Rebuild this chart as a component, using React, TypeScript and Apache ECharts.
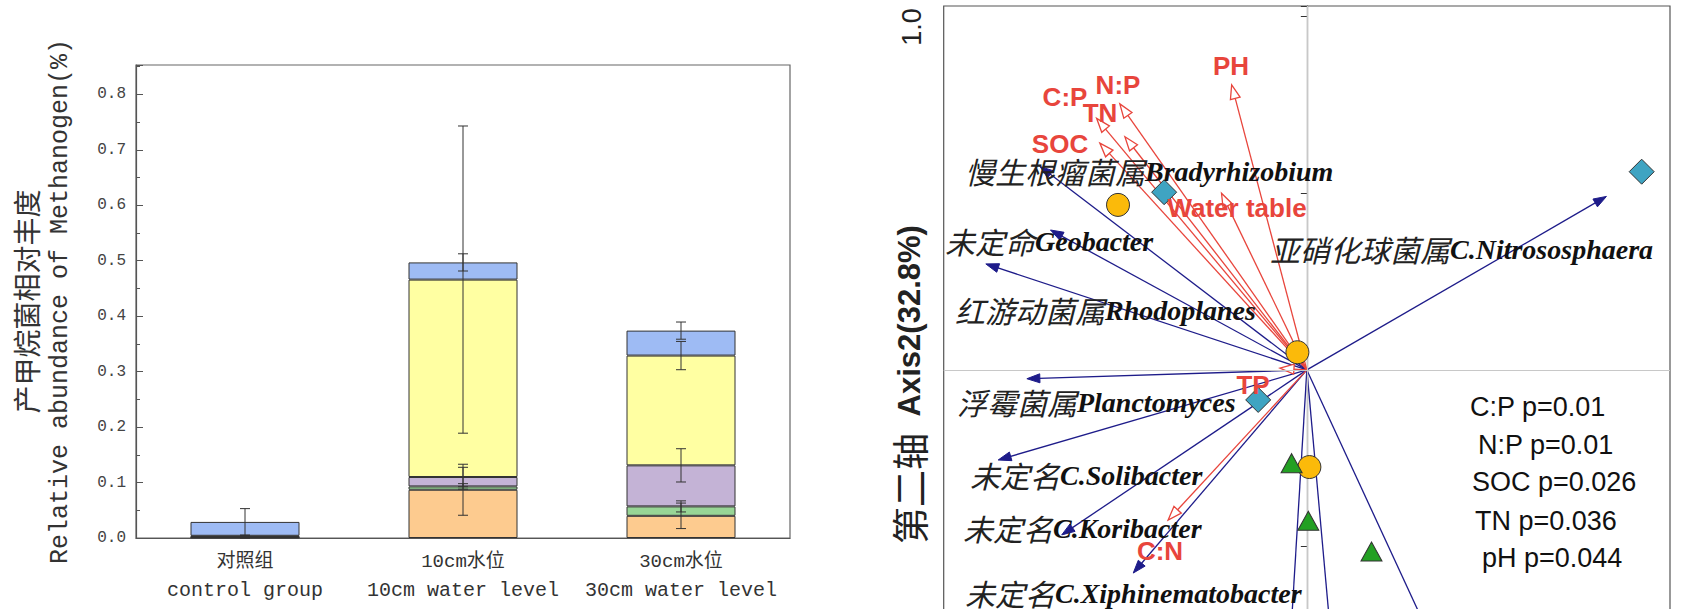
import React, { useEffect, useRef } from 'react';
import * as echarts from 'echarts';

// ---------- Left chart: stacked relative abundance ----------
const categoriesCn = ['对照组', '10cm水位', '30cm水位'];
const categoriesEn = ['control group', '10cm water level', '30cm water level'];
const layerNames = ['类群1', '类群2', '类群3', '类群4', '类群5'];
const layer1 = [0.001, 0.087, 0.040];   // orange
const layer2 = [0.0005, 0.006, 0.017];  // green
const layer3 = [0.001, 0.017, 0.074];   // purple
const layer4 = [0.0015, 0.356, 0.198];  // yellow
const layer5 = [0.025, 0.031, 0.045];   // blue
const err1 = [0.002, 0.046, 0.023];
const err2 = [0.001, 0.005, 0.010];
const err3 = [0.001, 0.0175, 0.030];
const err4 = [0.001, 0.277, 0.0255];
const err5 = [0.024, 0.0155, 0.0155];

// ---------- Right chart: RDA biplot ----------
const speciesArrowX = [-0.735, -0.706, -0.884, -0.771, -0.850, -0.675, -0.478, 0.825, -0.056, 0.083, 0.427];
const speciesArrowY = [0.576, 0.396, 0.300, -0.025, -0.255, -0.467, -0.575, 0.491, -0.95, -0.95, -0.95];
const speciesCn = ['慢生根瘤菌属', '未定命', '红游动菌属', '浮霉菌属', '未定名', '未定名', '未定名', '亚硝化球菌属'];
const speciesLatin = ['Bradyrhizobium', 'Geobacter', 'Rhodoplanes', 'Planctomyces', 'C.Solibacter', 'C.Koribacter', 'C.Xiphinematobacter', 'C.Nitrososphaera'];

const envNames = ['PH', 'N:P', 'C:P', 'TN', 'SOC', 'Water table', 'TP', 'C:N'];
const envX = [-0.207, -0.515, -0.579, -0.501, -0.570, -0.235, -0.074, -0.382];
const envY = [0.807, 0.753, 0.712, 0.660, 0.642, 0.500, 0.005, -0.425];

const circleX = [-0.520, -0.026, 0.007];
const circleY = [0.467, 0.050, -0.275];
const diamondX = [-0.393, 0.922, -0.134];
const diamondY = [0.503, 0.561, -0.085];
const triangleX = [-0.042, 0.004, 0.178];
const triangleY = [-0.264, -0.427, -0.514];

const sigTexts = ['C:P p=0.01', 'N:P p=0.01', 'SOC p=0.026', 'TN p=0.036', 'pH p=0.044'];

// layout (pixels) for annotation texts
const speciesLabelPos = [[965, 171], [945, 241], [955, 310], [957, 402], [970, 475], [963, 528], [965, 593], [1270, 249]];
const envLabelPos = [[1231, 66], [1118, 85], [1065, 97], [1100, 113], [1060, 144], [1237, 208], [1253, 385], [1160, 551]];
const sigLabelPos = [[1470, 407], [1478, 445], [1472, 482], [1475, 521], [1482, 558]];

const RED = '#E8453C';
const NAVY = '#1E1C8A';

function arrowRenderer(color: string, hollow: boolean, headLen: number, headW: number) {
  return (params: any, api: any) => {
    const tip = api.coord([api.value(0), api.value(1)]);
    const o = api.coord([0, 0]);
    const dx = tip[0] - o[0];
    const dy = tip[1] - o[1];
    const len = Math.hypot(dx, dy) || 1;
    const ux = dx / len;
    const uy = dy / len;
    const bx = tip[0] - ux * headLen;
    const by = tip[1] - uy * headLen;
    const px = -uy * headW;
    const py = ux * headW;
    return {
      type: 'group',
      children: [
        {
          type: 'line',
          shape: { x1: o[0], y1: o[1], x2: hollow ? bx : tip[0] - ux * 4, y2: hollow ? by : tip[1] - uy * 4 },
          style: { stroke: color, lineWidth: 1.3 },
        },
        {
          type: 'polygon',
          shape: { points: [[tip[0], tip[1]], [bx + px, by + py], [bx - px, by - py]] },
          style: { fill: hollow ? '#ffffff' : color, stroke: color, lineWidth: hollow ? 1.3 : 1 },
        },
      ],
    };
  };
}

export default function App() {
  const ref = useRef<HTMLDivElement>(null);

  useEffect(() => {
    document.body.style.margin = '0';
    if (!ref.current) return;
    const chart = echarts.init(ref.current, undefined, { renderer: 'svg' });

    const layers = [layer1, layer2, layer3, layer4, layer5];
    const errs = [err1, err2, err3, err4, err5];
    const colors = ['#FDCB8F', '#98D596', '#C4B3D6', '#FFFFA2', '#9EBBF4'];
    const errorData: number[][] = [];
    categoriesCn.forEach((_, i) => {
      let cum = 0;
      layers.forEach((l, k) => {
        cum += l[i];
        errorData.push([i, Math.max(0, cum - errs[k][i]), cum + errs[k][i]]);
      });
    });

    const barSeries = layers.map((l, k) => ({
      name: layerNames[k],
      type: 'bar',
      xAxisIndex: 0,
      yAxisIndex: 0,
      stack: 'total',
      barWidth: '50%',
      data: l,
      itemStyle: { color: colors[k], borderColor: '#333', borderWidth: 1 },
      z: 2,
    }));

    const speciesData = speciesArrowX.map((x, i) => [x, speciesArrowY[i]]);
    const envData = envX.map((x, i) => [x, envY[i]]);

    const latinRich = { fontFamily: 'Liberation Serif', fontWeight: 'bold', fontStyle: 'italic', fontSize: 28, fill: '#111' };
    const cnRich = { fontFamily: 'Noto Sans CJK SC', fontStyle: 'italic', fontSize: 30, fill: '#222' };

    const graphics: any[] = [];
    speciesCn.forEach((cn, i) => {
      graphics.push({
        type: 'text',
        x: speciesLabelPos[i][0],
        y: speciesLabelPos[i][1],
        z: 100,
        style: {
          text: `{c|${cn}}{l|${speciesLatin[i]}}`,
          rich: { c: cnRich, l: latinRich },
          align: 'left',
          verticalAlign: 'middle',
        },
      });
    });
    envNames.forEach((n, i) => {
      graphics.push({
        type: 'text',
        x: envLabelPos[i][0],
        y: envLabelPos[i][1],
        z: 101,
        style: {
          text: n,
          fontFamily: 'Liberation Sans',
          fontWeight: 'bold',
          fontSize: 26,
          fill: RED,
          align: 'center',
          verticalAlign: 'middle',
        },
      });
    });
    sigTexts.forEach((t, i) => {
      graphics.push({
        type: 'text',
        x: sigLabelPos[i][0],
        y: sigLabelPos[i][1],
        z: 100,
        style: {
          text: t,
          fontFamily: 'Liberation Sans',
          fontSize: 27,
          fill: '#111',
          align: 'left',
          verticalAlign: 'middle',
        },
      });
    });
    graphics.push({
      type: 'text',
      x: 912,
      y: 27,
      rotation: Math.PI / 2,
      z: 100,
      style: {
        text: '1.0',
        fontFamily: 'Liberation Sans',
        fontSize: 27,
        fill: '#222',
        align: 'center',
        verticalAlign: 'middle',
      },
    });

    const option: any = {
      animation: false,
      backgroundColor: '#ffffff',
      grid: [
        { left: 136, right: 917, top: 65, bottom: 71, outerBoundsMode: 'none', show: true, borderColor: '#666', borderWidth: 1.2, backgroundColor: 'transparent' },
        { left: 943.7, width: 726.3, top: 6, height: 717.2, outerBoundsMode: 'none', show: true, borderColor: '#555', borderWidth: 1.2, backgroundColor: 'transparent' },
      ],
      xAxis: [
        {
          type: 'category',
          gridIndex: 0,
          data: categoriesCn,
          axisTick: { show: false },
          axisLine: { lineStyle: { color: '#555', width: 1.2 } },
          axisLabel: {
            margin: 10,
            interval: 0,
            formatter: (v: string, idx: number) => `{a|${v}}\n{b|${categoriesEn[idx]}}`,
            rich: {
              a: { fontFamily: 'Liberation Mono, Noto Sans CJK SC', fontSize: 19, lineHeight: 28, color: '#333' },
              b: { fontFamily: 'Liberation Mono', fontSize: 20, lineHeight: 28, color: '#333' },
            },
          },
        },
        { type: 'value', gridIndex: 1, min: -1, max: 1, show: false },
      ],
      yAxis: [
        {
          type: 'value',
          gridIndex: 0,
          min: 0,
          max: 0.853,
          interval: 0.1,
          splitLine: { show: false },
          axisLine: { show: true, lineStyle: { color: '#555', width: 1.2 } },
          axisTick: { show: true, inside: true, length: 7, lineStyle: { color: '#555' } },
          minorTick: { show: true, splitNumber: 2, length: 4, lineStyle: { color: '#555' } },
          axisLabel: {
            margin: 10,
            fontFamily: 'Liberation Mono',
            fontSize: 16,
            color: '#444',
            showMaxLabel: false,
            formatter: (v: number) => v.toFixed(1),
          },
          name: '{c|产甲烷菌相对丰度}\n{e|Relative abundance of Methanogen(%)}',
          nameLocation: 'middle',
          nameRotate: 90,
          nameGap: 59,
          nameTextStyle: {
            rich: {
              c: { fontFamily: 'Noto Sans CJK SC', fontSize: 28, lineHeight: 34, color: '#333' },
              e: { fontFamily: 'Liberation Mono', fontSize: 25, lineHeight: 34, color: '#333' },
            },
          },
        },
        {
          type: 'value',
          gridIndex: 1,
          min: -1,
          max: 1.03,
          interval: 0.5,
          splitLine: { show: false },
          axisLine: { show: true, lineStyle: { color: '#333', width: 1.2 } },
          axisTick: { show: true, inside: false, length: 6, lineStyle: { color: '#333' } },
          axisLabel: { show: false },
          name: '{a|第二轴}  {b|Axis2(32.8%)}',
          nameLocation: 'middle',
          nameRotate: 90,
          nameGap: 16,
          nameTextStyle: {
            color: '#222',
            fontSize: 30,
            padding: [0, 40, 0, 0],
            rich: {
              a: { fontFamily: 'Noto Sans CJK SC', fontSize: 37, color: '#222' },
              b: { fontFamily: 'Liberation Sans', fontWeight: 'bold', fontSize: 31, color: '#222' },
            },
          },
        },
      ],
      series: [
        ...barSeries,
        {
          name: 'error',
          type: 'custom',
          xAxisIndex: 0,
          yAxisIndex: 0,
          data: errorData,
          z: 5,
          renderItem: (params: any, api: any) => {
            const lo = api.coord([api.value(0), api.value(1)]);
            const hi = api.coord([api.value(0), api.value(2)]);
            const x = lo[0];
            const w = 5;
            const st = { stroke: '#333', lineWidth: 1 };
            return {
              type: 'group',
              children: [
                { type: 'line', shape: { x1: x, y1: lo[1], x2: x, y2: hi[1] }, style: st },
                { type: 'line', shape: { x1: x - w, y1: lo[1], x2: x + w, y2: lo[1] }, style: st },
                { type: 'line', shape: { x1: x - w, y1: hi[1], x2: x + w, y2: hi[1] }, style: st },
              ],
            };
          },
        },
        {
          name: 'species',
          type: 'custom',
          xAxisIndex: 1,
          yAxisIndex: 1,
          data: speciesData,
          z: 3,
          renderItem: arrowRenderer(NAVY, false, 13, 4.5),
          markLine: {
            silent: true,
            symbol: ['none', 'none'],
            label: { show: false },
            lineStyle: { color: '#C8C8C8', width: 1.2, type: 'solid' },
            data: [{ xAxis: 0 }, { yAxis: 0 }],
          },
        },
        {
          name: 'environment',
          type: 'custom',
          xAxisIndex: 1,
          yAxisIndex: 1,
          data: envData,
          z: 4,
          renderItem: arrowRenderer(RED, true, 14, 5),
        },
        {
          name: 'circle',
          type: 'scatter',
          xAxisIndex: 1,
          yAxisIndex: 1,
          symbol: 'circle',
          symbolSize: 23,
          z: 6,
          data: circleX.map((x, i) => [x, circleY[i]]),
          itemStyle: { color: '#FBBA0A', borderColor: '#333', borderWidth: 1, opacity: 1 },
        },
        {
          name: 'diamond',
          type: 'scatter',
          xAxisIndex: 1,
          yAxisIndex: 1,
          symbol: 'diamond',
          symbolSize: 25,
          z: 6,
          data: diamondX.map((x, i) => [x, diamondY[i]]),
          itemStyle: { color: '#3FA4C2', borderColor: '#333', borderWidth: 1, opacity: 1 },
        },
        {
          name: 'triangle',
          type: 'scatter',
          xAxisIndex: 1,
          yAxisIndex: 1,
          symbol: 'triangle',
          symbolSize: [21, 19],
          z: 6,
          data: triangleX.map((x, i) => [x, triangleY[i]]),
          itemStyle: { color: '#23A023', borderColor: '#333', borderWidth: 1, opacity: 1 },
        },
      ],
      graphic: graphics,
    };

    chart.setOption(option);
    return () => chart.dispose();
  }, []);

  return <div ref={ref} style={{ width: 1707, height: 609 }} />;
}
